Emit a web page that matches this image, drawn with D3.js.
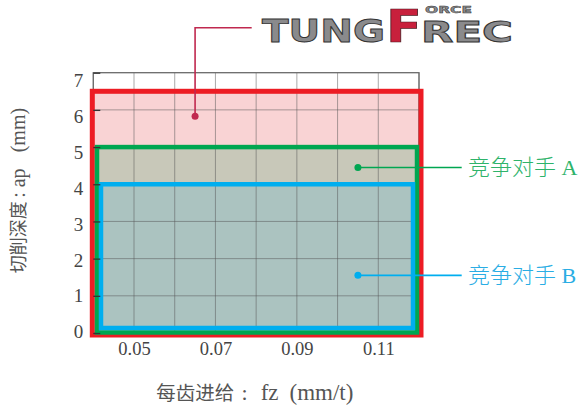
<!DOCTYPE html>
<html>
<head>
<meta charset="utf-8">
<script src="https://cdn.jsdelivr.net/npm/d3@7"></script>
<style>
  html, body { margin: 0; padding: 0; background: #fff; }
  svg { display: block; }
  .lat { font-family: "Liberation Serif", "Noto Sans CJK SC", serif; }
  .cjk { font-family: "Noto Sans CJK SC", sans-serif; }
</style>
</head>
<body>
<svg id="chart" width="587" height="410"></svg>
<script>
// Feed per tooth (mm/t) range and cutting-depth (mm) range of each tool
const seriesNames = ["TungForce-Rec", "竞争对手 A", "竞争对手 B"];
const fzMin = [0.04, 0.04, 0.04];
const fzMax = [0.12, 0.12, 0.12];
const apMax = [6.5, 5, 4];

// Callout anchor points (fz, ap) for each series
const calloutFz = [0.065, 0.105, 0.105];
const calloutAp = [5.83, 4.45, 1.55];

// Axis ticks
const xTicks = [0.05, 0.07, 0.09, 0.11];
const xGrid = [0.04, 0.05, 0.06, 0.07, 0.08, 0.09, 0.10, 0.11, 0.12];
const yTicks = [0, 1, 2, 3, 4, 5, 6, 7];

const strokeCol = ["#ed1c24", "#00a651", "#00aeef"];
const fillCol = ["#f9d3d4", "#c8c8b9", "#abc3c0"];
const leaderCol = ["#c0294f", "#00a651", "#00aeef"];
const labelCol = ["#c0294f", "#2eb36a", "#2aade4"];
const strokeW = [5, 4.5, 4.5];
// pixel offsets of each outline from its range: [left, right, bottom]
const inset = [[-1, 2, 2], [3.7, -2, -0.5], [7.7, -6, -5]];

const svg = d3.select("#chart");
const x = d3.scaleLinear().domain([0.04, 0.12]).range([93.3, 419]);
const y = d3.scaleLinear().domain([0, 7]).range([333, 72.7]);
// the printed value column sits on a slightly tighter rhythm than the grid
const yLab = d3.scaleLinear().domain([0, 7]).range([331.7, 80.7]);

const idx = d3.range(seriesNames.length);
const box = i => {
  const x0 = x(fzMin[i]) + inset[i][0];
  const x1 = x(fzMax[i]) + inset[i][1];
  const y0 = y(apMax[i]);
  const y1 = y(0) + inset[i][2];
  return { x0, x1, y0, y1 };
};

// filled areas
svg.append("g").selectAll("rect").data(idx).join("rect")
  .attr("x", i => box(i).x0).attr("y", i => box(i).y0)
  .attr("width", i => box(i).x1 - box(i).x0)
  .attr("height", i => box(i).y1 - box(i).y0)
  .attr("fill", i => fillCol[i]);

// grid
const grid = svg.append("g");
grid.selectAll("line.v").data(xGrid).join("line").attr("class", "v")
  .attr("x1", d => x(d)).attr("x2", d => x(d))
  .attr("y1", y(7)).attr("y2", y(0))
  .attr("stroke", "#555").attr("stroke-opacity", 0.5).attr("stroke-width", 1);
grid.selectAll("line.h").data(yTicks.slice(1, 7)).join("line").attr("class", "h")
  .attr("x1", x(0.04)).attr("x2", x(0.12))
  .attr("y1", d => y(d)).attr("y2", d => y(d))
  .attr("stroke", "#555").attr("stroke-opacity", 0.5).attr("stroke-width", 1);

// frame
svg.append("rect")
  .attr("x", x(0.04)).attr("y", y(7))
  .attr("width", x(0.12) - x(0.04)).attr("height", y(0) - y(7))
  .attr("fill", "none").attr("stroke", "#6a6a6a").attr("stroke-width", 1.3);

// outlines
svg.append("g").selectAll("rect").data(idx).join("rect")
  .attr("x", i => box(i).x0).attr("y", i => box(i).y0)
  .attr("width", i => box(i).x1 - box(i).x0)
  .attr("height", i => box(i).y1 - box(i).y0)
  .attr("fill", "none")
  .attr("stroke", i => strokeCol[i])
  .attr("stroke-width", i => strokeW[i]);

// y axis: inner tick marks on the grid, values in their own column
const yAxis = svg.append("g").attr("transform", `translate(${x(0.04)},0)`)
  .call(d3.axisLeft(y).tickValues(yTicks).tickSize(-7).tickFormat(""));
yAxis.select(".domain").remove();
yAxis.selectAll(".tick line").attr("stroke", "#333").attr("stroke-width", 1.3);

const yLabels = svg.append("g").attr("transform", `translate(${x(0.04) - 10},0)`)
  .call(d3.axisLeft(yLab).tickValues(yTicks).tickSize(0).tickPadding(0).tickFormat(d3.format("d")));
yLabels.select(".domain").remove();
yLabels.selectAll(".tick text")
  .attr("class", "lat").attr("font-size", 19).attr("fill", "#444");

// x axis
const xAxis = svg.append("g").attr("transform", `translate(0,${y(0)})`)
  .call(d3.axisBottom(x).tickValues(xTicks).tickSize(0).tickPadding(9).tickFormat(d3.format(".2f")));
xAxis.select(".domain").remove();
xAxis.selectAll(".tick text")
  .attr("class", "lat").attr("font-size", 18.5).attr("fill", "#444");

// axis titles
const yTitle = svg.append("text")
  .attr("transform", "translate(24.5,273.3) rotate(-90)")
  .attr("fill", "#555");
yTitle.append("tspan").attr("class", "cjk").attr("x", 0).attr("font-size", 18).text("切削深度");
yTitle.append("tspan").attr("class", "lat").attr("x", 75.5).attr("font-size", 20).text(":");
yTitle.append("tspan").attr("class", "lat").attr("x", 86).attr("font-size", 20).text("ap");
yTitle.append("tspan").attr("class", "lat").attr("x", 121).attr("font-size", 20).text("(mm)");

const xTitle = svg.append("text")
  .attr("transform", "translate(156.2,399.5)")
  .attr("fill", "#555");
xTitle.append("tspan").attr("class", "cjk").attr("x", 0).attr("font-size", 19.5).text("每齿进给");
xTitle.append("tspan").attr("class", "lat").attr("x", 85.3).attr("font-size", 22).text(":");
xTitle.append("tspan").attr("class", "lat").attr("x", 104.5).attr("font-size", 23).text("fz");
xTitle.append("tspan").attr("class", "lat").attr("x", 133.3).attr("font-size", 23).text("(mm/t)");

// callouts
const leaderEndX = 461.7;
const co = svg.append("g");
// product callout: up then across to the logo
co.append("path")
  .attr("d", `M${x(calloutFz[0])},${y(calloutAp[0])}V27.7H251.7`)
  .attr("fill", "none").attr("stroke", leaderCol[0]).attr("stroke-width", 1.6);
[1, 2].forEach(i => {
  co.append("line")
    .attr("x1", x(calloutFz[i])).attr("x2", leaderEndX)
    .attr("y1", y(calloutAp[i])).attr("y2", y(calloutAp[i]))
    .attr("stroke", leaderCol[i]).attr("stroke-width", 1.6);
  co.append("text").attr("class", "lat")
    .attr("x", 468).attr("y", y(calloutAp[i]))
    .attr("dy", "0.36em")
    .attr("font-size", 22).attr("font-weight", 300).attr("fill", labelCol[i])
    .text(seriesNames[i]);
});
co.selectAll("circle").data(idx).join("circle")
  .attr("cx", i => x(calloutFz[i])).attr("cy", i => y(calloutAp[i]))
  .attr("r", 3.5).attr("fill", i => leaderCol[i]);

// logo wordmark, one text run
const logo = svg.append("text")
  .attr("font-family", "DejaVu Sans, sans-serif")
  .attr("font-weight", "bold")
  .attr("stroke", "#333").attr("stroke-width", 0.9)
  .attr("fill", "#8a8a8c");
logo.append("tspan").attr("x", 262).attr("y", 42)
  .attr("font-size", 32).attr("textLength", 123).attr("lengthAdjust", "spacingAndGlyphs")
  .text("TUNG");
logo.append("tspan").attr("x", 386).attr("y", 42)
  .attr("font-size", 44).attr("textLength", 36).attr("lengthAdjust", "spacingAndGlyphs")
  .attr("fill", "#c8203c").attr("stroke", "#4a1a20").attr("stroke-width", 0.7)
  .text("F");
logo.append("tspan").attr("x", 425).attr("y", 12.5)
  .attr("font-size", 9).attr("textLength", 47).attr("lengthAdjust", "spacingAndGlyphs")
  .attr("stroke-width", 0.4)
  .text("ORCE");
logo.append("tspan").attr("x", 421).attr("y", 42)
  .attr("font-size", 29).attr("textLength", 92).attr("lengthAdjust", "spacingAndGlyphs")
  .text("REC");
</script>
</body>
</html>
